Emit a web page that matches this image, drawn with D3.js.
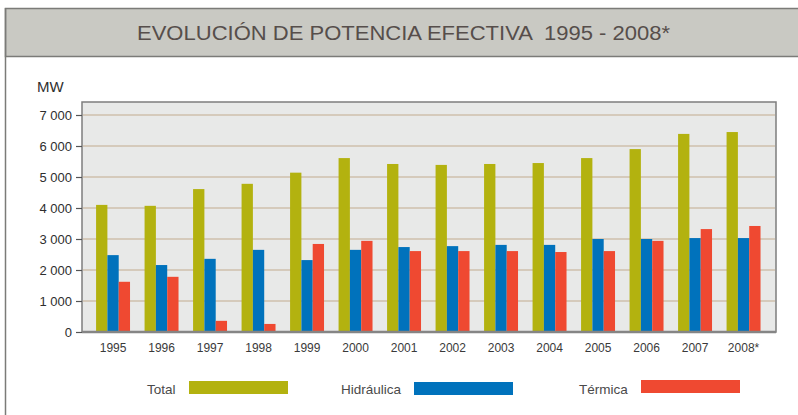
<!DOCTYPE html>
<html>
<head>
<meta charset="utf-8">
<script src="https://cdn.jsdelivr.net/npm/d3@7"></script>
<style>
  body { margin: 0; background: #fff; }
  svg { display: block; font-family: "Liberation Sans", Arial, sans-serif; }
</style>
</head>
<body>
<div id="chart"></div>
<script>
const years = ["1995", "1996", "1997", "1998", "1999", "2000", "2001", "2002", "2003", "2004", "2005", "2006", "2007", "2008*"];
const total = [4100, 4070, 4610, 4780, 5140, 5610, 5420, 5390, 5420, 5450, 5610, 5900, 6390, 6450];
const hidraulica = [2480, 2160, 2360, 2650, 2320, 2650, 2740, 2770, 2810, 2810, 3000, 3000, 3030, 3030];
const termica = [1620, 1780, 360, 260, 2840, 2940, 2610, 2610, 2610, 2580, 2610, 2940, 3320, 3420];
const seriesNames = ["Total", "Hidráulica", "Térmica"];
const seriesColors = ["#b3b20f", "#0072bc", "#ef4931"];
const yTicks = [0, 1000, 2000, 3000, 4000, 5000, 6000, 7000];

const width = 798, height = 415;
const plot = { left: 82, right: 776, top: 102, bottom: 332 };

const svg = d3.select("#chart").append("svg").attr("width", width).attr("height", height);

// header band
svg.append("rect").attr("x", 5.5).attr("y", 8.5).attr("width", 800).attr("height", 48)
  .attr("fill", "#c9c9c3").attr("stroke", "#7b7b78").attr("stroke-width", 1.5);
svg.append("line").attr("x1", 5.5).attr("x2", 5.5).attr("y1", 8).attr("y2", height)
  .attr("stroke", "#7b7b78").attr("stroke-width", 1.5);
svg.append("text").attr("x", 137).attr("y", 40)
  .attr("font-size", 20).attr("fill", "#564e4b")
  .attr("textLength", 533).attr("lengthAdjust", "spacingAndGlyphs")
  .style("white-space", "pre")
  .text("EVOLUCIÓN DE POTENCIA EFECTIVA  1995 - 2008*");

const x0 = d3.scaleBand().domain(years).range([88.8, 767.8]).paddingInner(0.3).paddingOuter(0.15);
const x1 = d3.scaleBand().domain(seriesNames).range([0, x0.bandwidth()]);
const y = d3.scaleLinear().domain([0, 7000]).range([plot.bottom, plot.bottom - 7000 * 0.031]);

// plot background
svg.append("rect").attr("x", plot.left).attr("y", plot.top)
  .attr("width", plot.right - plot.left).attr("height", plot.bottom - plot.top)
  .attr("fill", "#e8e9e8").attr("stroke", "#7d7d7d").attr("stroke-width", 1.5);

// grid
svg.append("g").selectAll("line").data(yTicks.filter(d => d > 0)).enter().append("line")
  .attr("x1", plot.left + 1).attr("x2", plot.right - 1)
  .attr("y1", d => y(d)).attr("y2", d => y(d))
  .attr("stroke", "#d5cabb").attr("stroke-width", 2);

// bars
const rows = years.map((yr, i) => ({ year: yr, values: [total[i], hidraulica[i], termica[i]] }));
const groups = svg.append("g").selectAll("g").data(rows).enter().append("g")
  .attr("transform", d => `translate(${x0(d.year)},0)`);
groups.selectAll("rect").data(d => d.values.map((v, k) => ({ key: seriesNames[k], value: v, k }))).enter()
  .append("rect")
  .attr("x", d => x1(d.key))
  .attr("width", x1.bandwidth())
  .attr("y", d => y(d.value))
  .attr("height", d => y(0) - y(d.value))
  .attr("fill", d => seriesColors[d.k]);

// y axis
const yAxis = d3.axisLeft(y).tickValues(yTicks).tickSize(6).tickPadding(4)
  .tickFormat(d => d3.format(",")(d).replace(",", " "));
const yg = svg.append("g").attr("transform", `translate(${plot.left},0)`).call(yAxis);
yg.select(".domain").remove();
yg.selectAll(".tick line").attr("stroke", "#555").attr("stroke-width", 1.2);
yg.selectAll(".tick text").attr("font-size", 13).attr("fill", "#2e2e2e")
  .attr("font-family", "Liberation Sans, Arial, sans-serif");

// x axis
const xAxis = d3.axisBottom(x0).tickSize(0).tickPadding(11);
const xg = svg.append("g").attr("transform", `translate(0,${plot.bottom})`).call(xAxis);
xg.select(".domain").attr("d", `M${plot.left},0H${plot.right}`).attr("stroke", "#858585").attr("stroke-width", 2.5);
xg.selectAll(".tick text").attr("font-size", 12).attr("fill", "#3a3a3a")
  .attr("font-family", "Liberation Sans, Arial, sans-serif");

svg.append("text").attr("x", 37).attr("y", 92).attr("font-size", 15).attr("fill", "#2f2f2f").text("MW");

// legend
const legendItems = [
  { label: seriesNames[0], tx: 147, rx: 189, ry: 381 },
  { label: seriesNames[1], tx: 341, rx: 414, ry: 382 },
  { label: seriesNames[2], tx: 579, rx: 641, ry: 380 }
];
const lg = svg.append("g").selectAll("g").data(legendItems).enter().append("g");
lg.append("text").attr("x", d => d.tx).attr("y", 394).attr("font-size", 13.5).attr("fill", "#4a4a4a").text(d => d.label);
lg.append("rect").attr("x", d => d.rx).attr("y", d => d.ry).attr("width", 99).attr("height", 13)
  .attr("fill", (d, i) => seriesColors[i]);
</script>
</body>
</html>
